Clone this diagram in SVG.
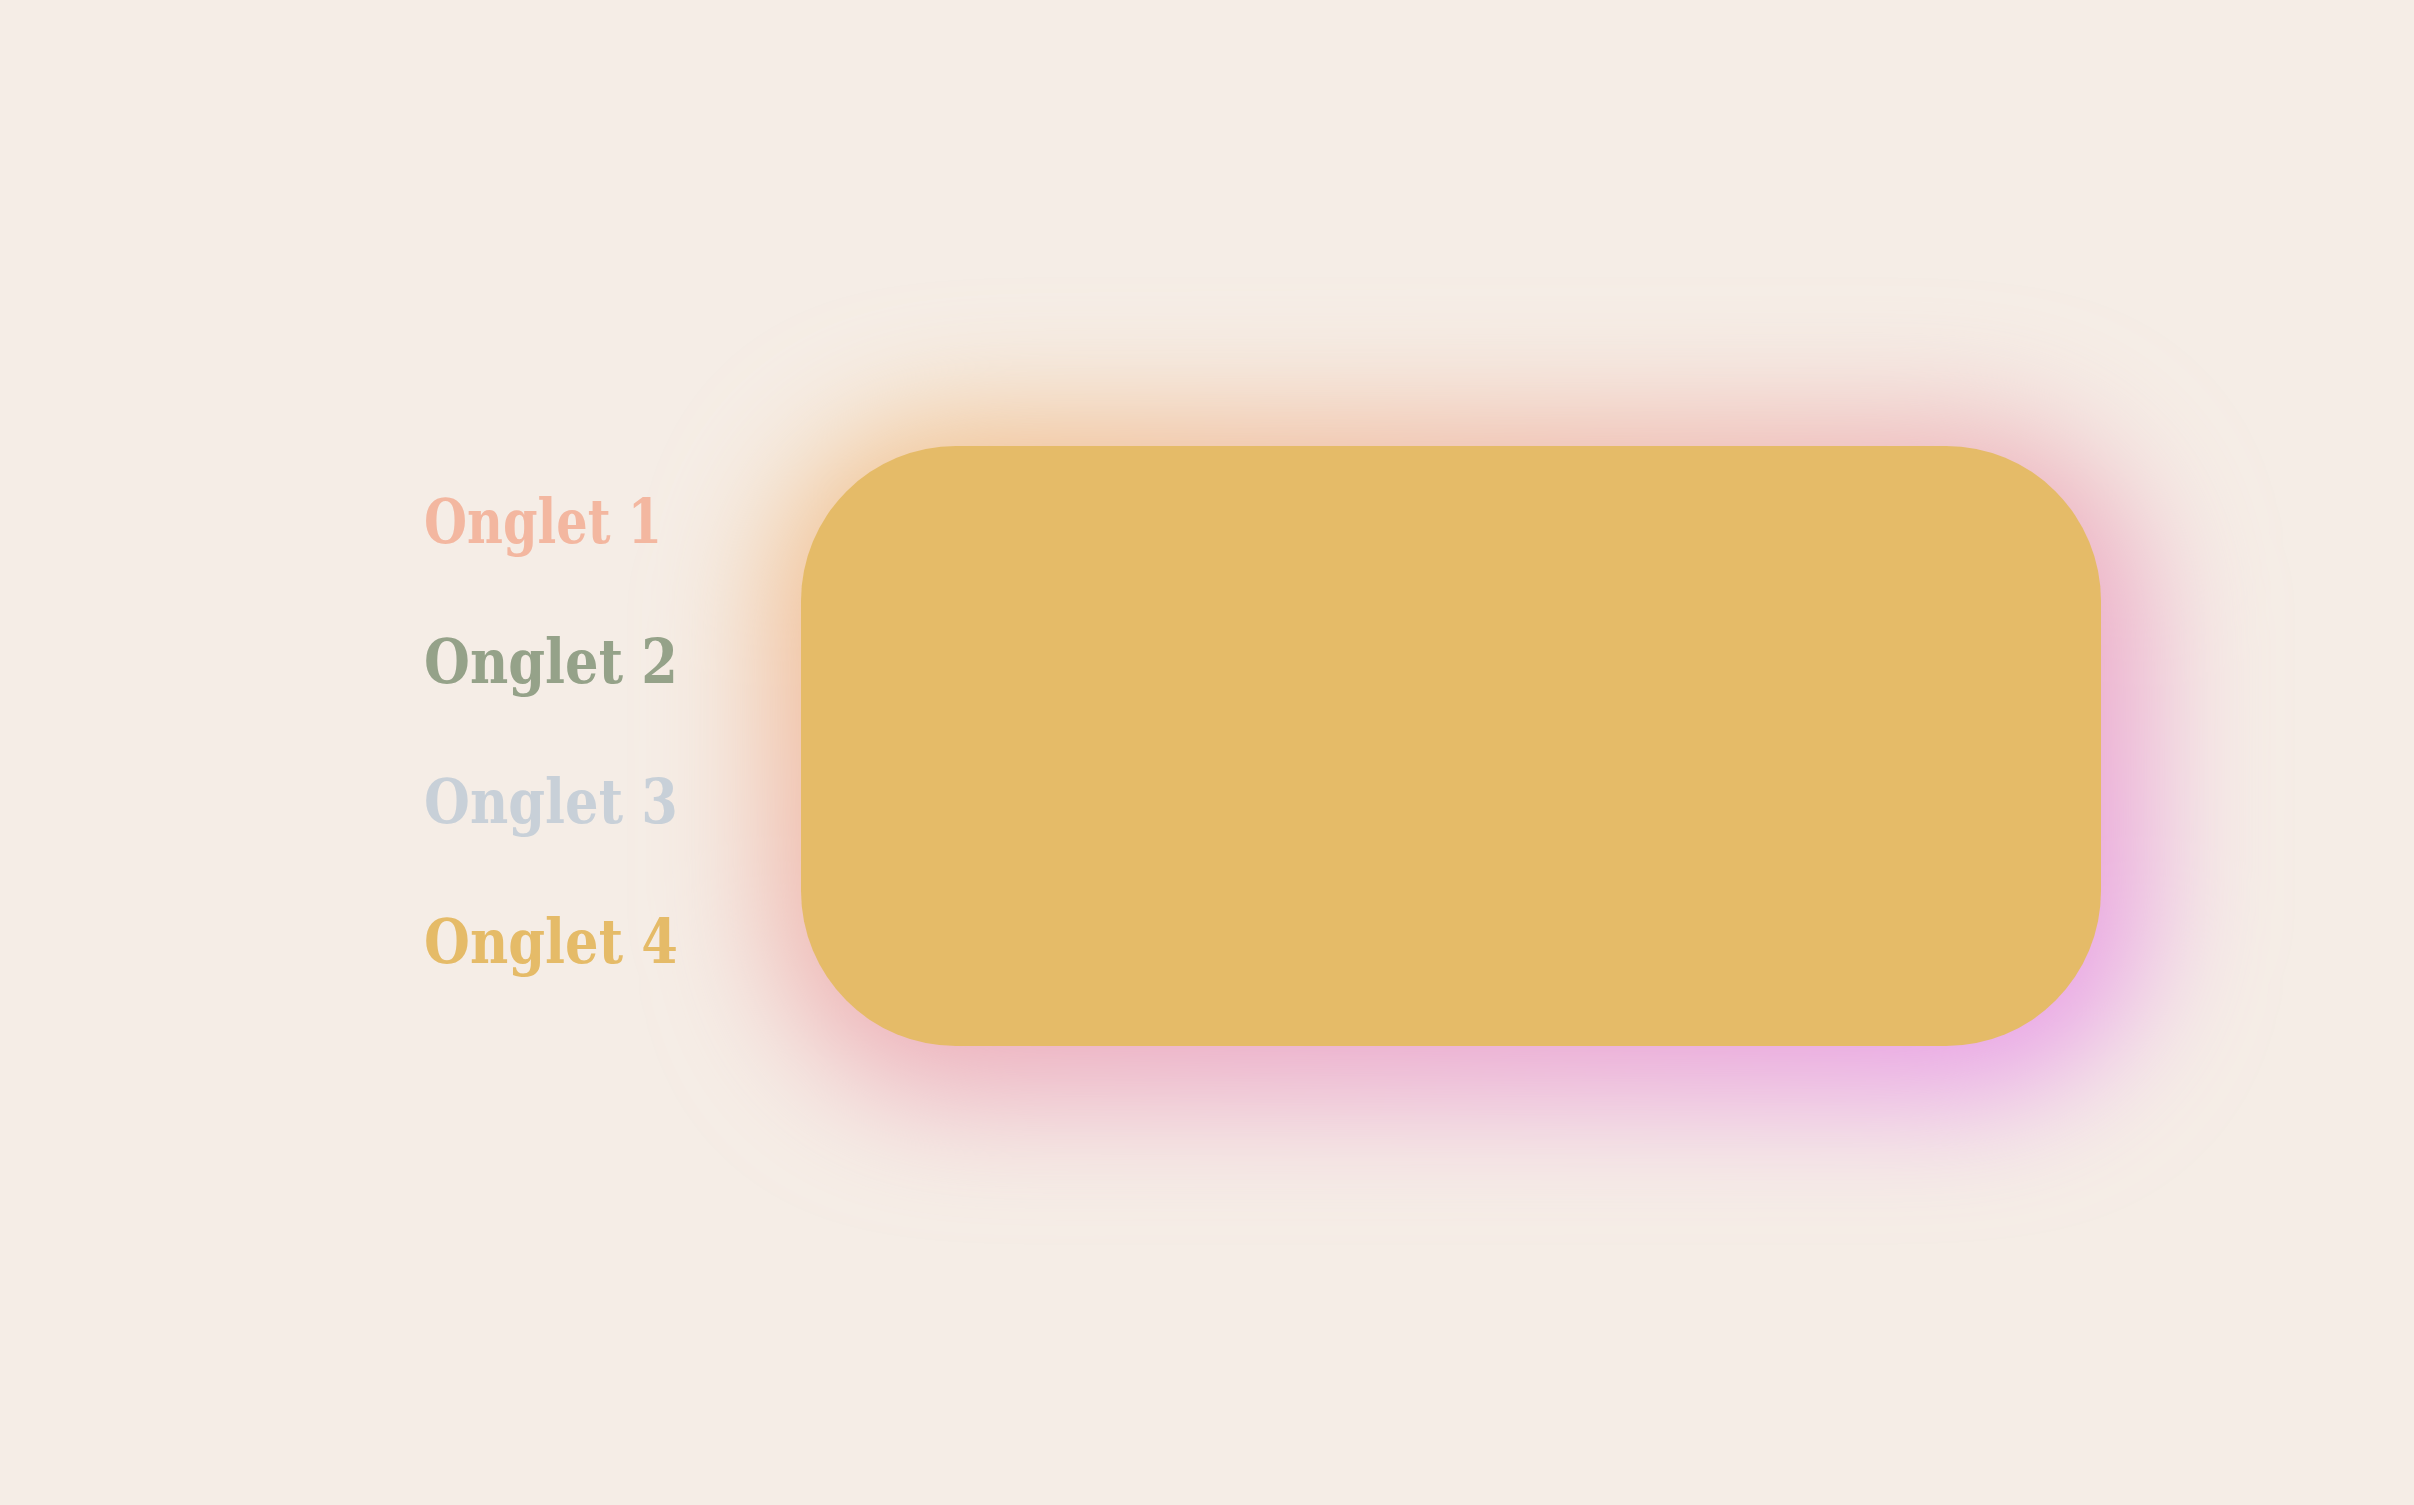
<svg xmlns="http://www.w3.org/2000/svg" width="2414" height="1505" viewBox="0 0 2414 1505">
<style>
.tab{font-family:"DejaVu Serif","Liberation Serif",serif;font-weight:bold;font-size:62px}
</style>
<defs>
<linearGradient id="glowg" x1="0" y1="0" x2="1" y2="1">
<stop offset="0" stop-color="#F3C27A"/>
<stop offset="0.4" stop-color="#EEB2AE"/>
<stop offset="1" stop-color="#E79CF4"/>
</linearGradient>
<filter id="blur" filterUnits="userSpaceOnUse" x="0" y="0" width="2414" height="1505">
<feGaussianBlur stdDeviation="62"/>
</filter>
</defs>
<rect width="2414" height="1505" fill="#F5EDE6"/>
<g id="panel">
<rect x="776" y="426" width="1370" height="670" rx="185" fill="url(#glowg)" filter="url(#blur)"/>
<rect x="801" y="446" width="1300" height="600" rx="155" fill="#E5BB68"/>
</g>
<g id="tab1"><text class="tab" x="424" y="543" fill="#F3B7A0" textLength="238" lengthAdjust="spacingAndGlyphs">Onglet 1</text></g>
<g id="tab2"><text class="tab" x="424" y="683" fill="#95A289" textLength="254" lengthAdjust="spacingAndGlyphs">Onglet 2</text></g>
<g id="tab3"><text class="tab" x="424" y="823" fill="#C8D0D8" textLength="254" lengthAdjust="spacingAndGlyphs">Onglet 3</text></g>
<g id="tab4"><text class="tab" x="424" y="963" fill="#E5BB68" textLength="254" lengthAdjust="spacingAndGlyphs">Onglet 4</text></g>
<g id="connectors"/>
</svg>
